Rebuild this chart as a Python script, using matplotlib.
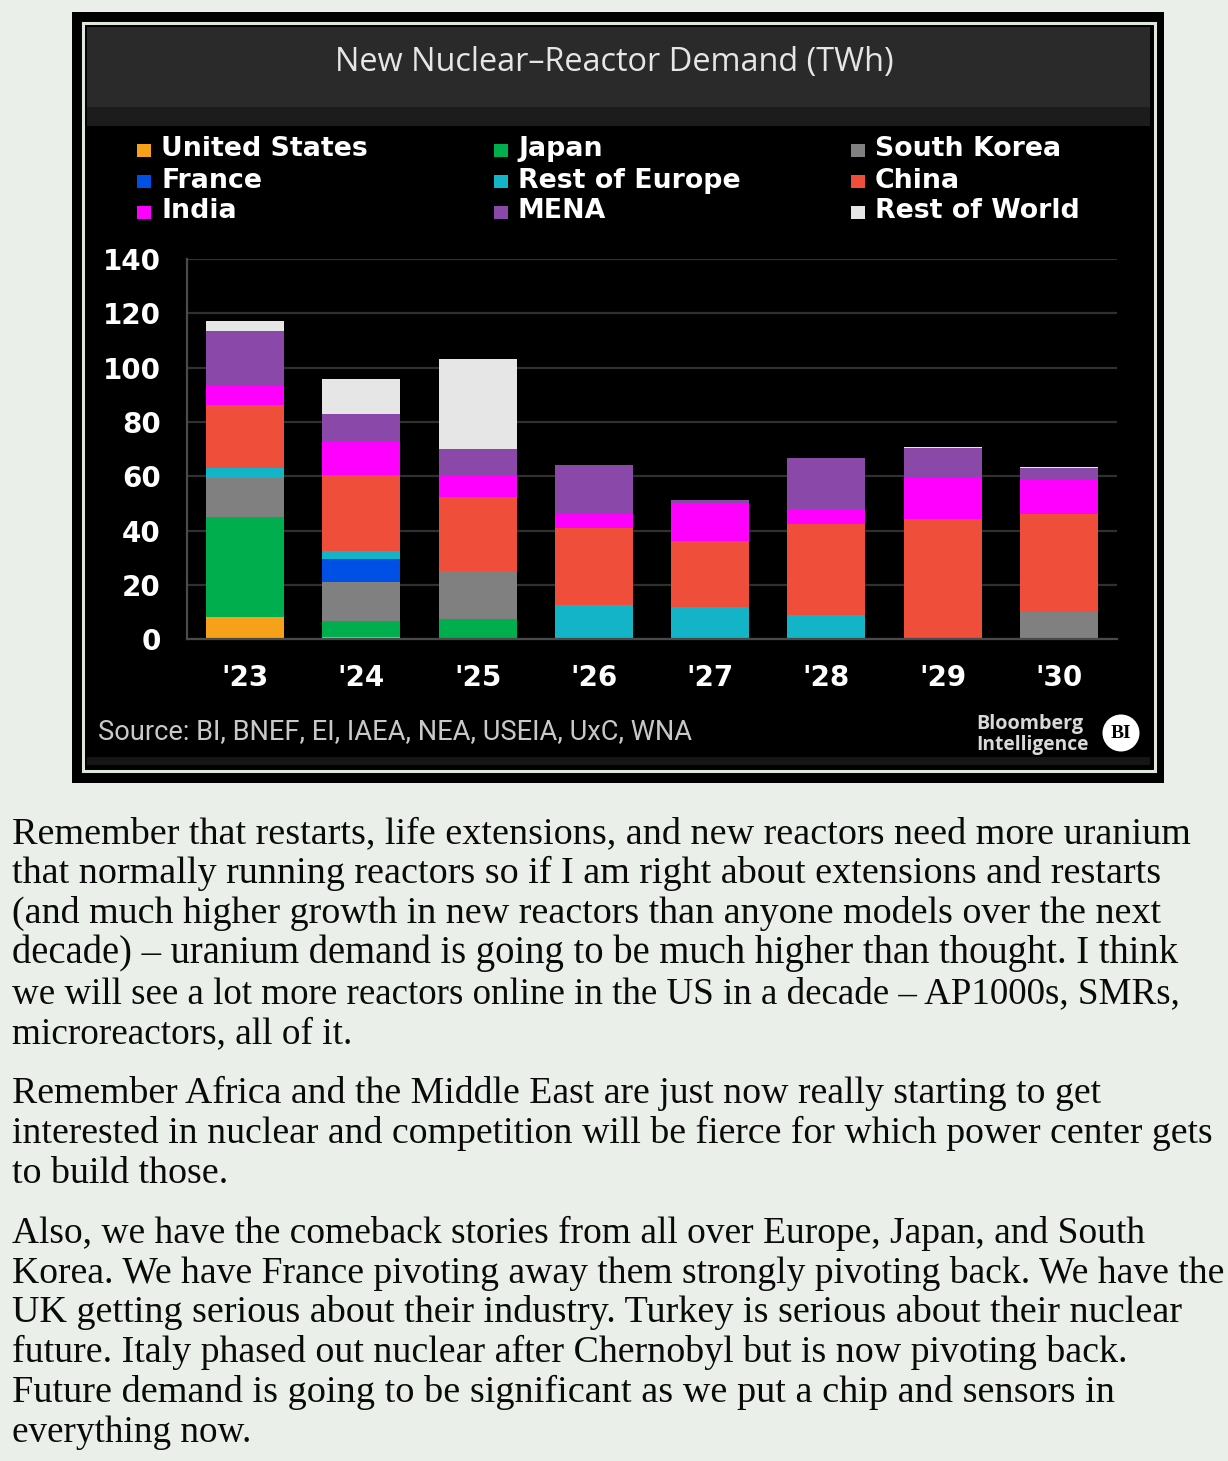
import numpy as np
import matplotlib
matplotlib.use("Agg")
import matplotlib.pyplot as plt
from matplotlib.patches import Rectangle, Circle
from matplotlib import font_manager as fm

# data (TWh)
years = ["'23", "'24", "'25", "'26", "'27", "'28", "'29", "'30"]
united_states = [8.3, 0.7, 0, 0, 0, 0, 0, 0]
japan = [36.9, 6.2, 7.5, 0, 0, 0, 0, 0]
south_korea = [14.0, 14.1, 17.5, 0, 0, 0, 0, 10.1]
france = [0, 8.5, 0, 0, 0, 0, 0, 0]
rest_of_europe = [3.9, 3.0, 0, 12.5, 11.9, 9.0, 0, 0]
china = [23.0, 27.8, 27.5, 28.6, 24.3, 33.5, 44.2, 36.1]
india = [7.0, 12.5, 7.5, 5.1, 13.9, 5.4, 15.0, 12.9]
mena = [20.5, 10.3, 10.2, 17.9, 1.2, 18.8, 11.1, 3.8]
rest_of_world = [3.7, 12.9, 33.0, 0, 0, 0, 0.6, 0.7]

# stacking order, bottom to top
series = [
    ("United States", united_states, "#f7a11a"),
    ("Japan", japan, "#00ae4d"),
    ("South Korea", south_korea, "#808080"),
    ("France", france, "#0050e6"),
    ("Rest of Europe", rest_of_europe, "#14b4c8"),
    ("China", china, "#ee4e3a"),
    ("India", india, "#ff00ff"),
    ("MENA", mena, "#8a48a8"),
    ("Rest of World", rest_of_world, "#e6e6e6"),
]
# legend reading order (3 columns)
legend_order = ["United States", "Japan", "South Korea",
                "France", "Rest of Europe", "China",
                "India", "MENA", "Rest of World"]

yticks = [0, 20, 40, 60, 80, 100, 120, 140]

title = "New Nuclear\u2013Reactor Demand (TWh)"
source = "Source: BI, BNEF, EI, IAEA, NEA, USEIA, UxC, WNA"

paragraphs = [
    ["Remember that restarts, life extensions, and new reactors need more uranium",
     "that normally running reactors so if I am right about extensions and restarts",
     "(and much higher growth in new reactors than anyone models over the next",
     "decade) \u2013 uranium demand is going to be much higher than thought. I think",
     "we will see a lot more reactors online in the US in a decade \u2013 AP1000s, SMRs,",
     "microreactors, all of it."],
    ["Remember Africa and the Middle East are just now really starting to get",
     "interested in nuclear and competition will be fierce for which power center gets",
     "to build those."],
    ["Also, we have the comeback stories from all over Europe, Japan, and South",
     "Korea. We have France pivoting away them strongly pivoting back. We have the",
     "UK getting serious about their industry. Turkey is serious about their nuclear",
     "future. Italy phased out nuclear after Chernobyl but is now pivoting back.",
     "Future demand is going to be significant as we put a chip and sensors in",
     "everything now."],
]


def pick(names):
    for n in names:
        try:
            fm.findfont(fm.FontProperties(family=n), fallback_to_default=False)
            return n
        except Exception:
            pass
    return "DejaVu Sans"


narrow = pick(["Liberation Sans Narrow", "Roboto"])
ui = pick(["Open Sans", "Noto Sans"])
serif = pick(["Liberation Serif", "DejaVu Serif"])

W, H = 1228, 1461
bg = "#eaf0e9"
fig = plt.figure(figsize=(W / 100, H / 100), dpi=100, facecolor=bg)
renderer = fig.canvas.get_renderer()


def fit(t, width_px):
    w = t.get_window_extent(renderer).width
    t.set_fontsize(t.get_fontsize() * width_px / w)
    return t.get_fontsize()


# background / frame layer, 1 unit = 1 pixel
bgax = fig.add_axes([0, 0, 1, 1])
bgax.set_xlim(0, W)
bgax.set_ylim(H, 0)
bgax.axis("off")

bgax.add_patch(Rectangle((72, 12), 1092, 771, fc="black", ec="none"))
bgax.add_patch(Rectangle((82.5, 22.5), 1072, 748, fill=False, ec="#dfe6dc", lw=2.2))
bgax.add_patch(Rectangle((87, 27), 1063, 80, fc="#2a2a2a", ec="none"))
bgax.add_patch(Rectangle((87, 107), 1063, 19, fc="#1c1c1c", ec="none"))
bgax.add_patch(Rectangle((87, 757), 1063, 8, fc="#161616", ec="none"))

t = bgax.text(614, 62, title, color="#e6e6e6", family=ui, fontsize=20,
              ha="center", va="center")
fit(t, 560)

# legend
leg_size = None
for i, name in enumerate(legend_order):
    row, col = i // 3, i % 3
    color = [c for n, v, c in series if n == name][0]
    base = 156.5 + row * 31
    bgax.add_patch(Rectangle((137 + col * 357, base - 13), 14, 13, fc=color, ec="none"))
    lt = bgax.text(161 + col * 357, base, name, color="white", family="DejaVu Sans",
                   weight="bold", fontsize=19, ha="left", va="baseline")
    if leg_size is None:
        leg_size = fit(lt, 206)
    else:
        lt.set_fontsize(leg_size)

# footer
st = bgax.text(98, 739, source, color="#c8c8c8", family=narrow, fontsize=18,
               ha="left", va="baseline")
fit(st, 593)
b1 = bgax.text(976, 728.5, "Bloomberg", color="#d9d9d9", family=ui, weight="bold",
               fontsize=11, ha="left", va="baseline")
fit(b1, 107)
b2 = bgax.text(976, 750, "Intelligence", color="#d9d9d9", family=ui, weight="bold",
               fontsize=11, ha="left", va="baseline")
fit(b2, 112)
bgax.add_patch(Circle((1121, 733), 18.5, fc="white", ec="none"))
bgax.text(1121, 734, "BI", color="black", family=serif, weight="bold", fontsize=14,
          ha="center", va="center")

# chart
ax = fig.add_axes([187 / W, 1 - 639.3 / H, (1117 - 187) / W, (639.3 - 259) / H])
ax.set_facecolor("black")
x = np.arange(len(years))
bottom = np.zeros(len(years))
for name, vals, color in series:
    vals = np.array(vals, dtype=float)
    ax.bar(x, vals, bottom=bottom, width=0.67, color=color, linewidth=0, label=name)
    bottom += vals

ax.set_xlim(-0.5, 7.5)
ax.set_ylim(0, 140)
ax.set_yticks(yticks)
ax.set_xticks(x)
ax.set_xticklabels(years)
ax.set_axisbelow(True)
ax.yaxis.grid(True, color="#303030", lw=1.6)
for s in ["top", "right"]:
    ax.spines[s].set_visible(False)
for s in ["left", "bottom"]:
    ax.spines[s].set_color("#4a4a4a")
    ax.spines[s].set_linewidth(1.6)
ax.tick_params(axis="both", length=0, colors="white", labelsize=20)
ax.tick_params(axis="y", pad=19)
ax.tick_params(axis="x", pad=18)
for lab in ax.get_xticklabels() + ax.get_yticklabels():
    lab.set_fontweight("bold")
    lab.set_family("DejaVu Sans")

# text below the chart: baseline and right end of every line
baselines = [[843, 883, 923, 963, 1003, 1043],
             [1103, 1143, 1183],
             [1243, 1283, 1322, 1362, 1402, 1442]]
line_ends = [[1190, 1160, 1160, 1178, 1183, 352],
             [1103, 1211, 228],
             [1147, 1222, 1182, 1125, 1112, 251]]
for p, lines in enumerate(paragraphs):
    for j, line in enumerate(lines):
        lt = bgax.text(12, baselines[p][j], line, color="#0a0a0a", family=serif,
                       fontsize=20, ha="left", va="baseline")
        fit(lt, line_ends[p][j] - 12)

fig.savefig("out.png", dpi=100, facecolor=bg)
